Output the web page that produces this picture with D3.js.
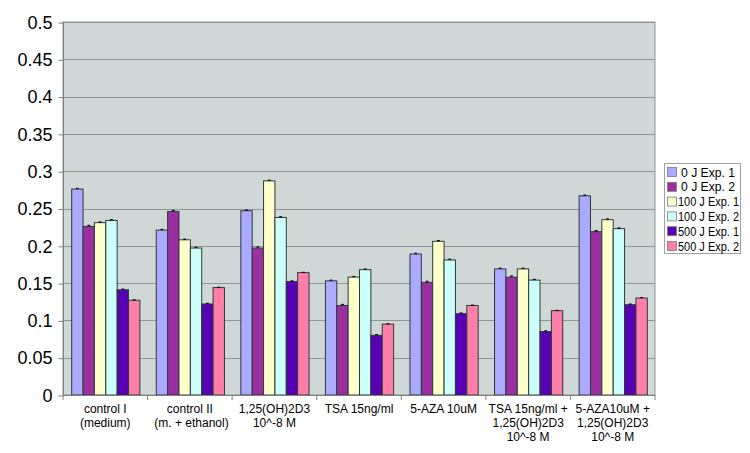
<!DOCTYPE html>
<html><head><meta charset="utf-8">
<script src="https://cdn.jsdelivr.net/npm/d3@7"></script>
<style>body{margin:0;background:#fff;}svg{display:block;font-family:"Liberation Sans",Arial,sans-serif;}</style>
</head><body><svg id="c" width="750" height="453"></svg>
<script>
const categories = [
  ["control I","(medium)"],
  ["control II"," (m. + ethanol)"],
  ["1,25(OH)2D3","10^-8 M"],
  ["TSA 15ng/ml"],
  ["5-AZA 10uM"],
  ["TSA 15ng/ml +","1,25(OH)2D3","10^-8 M"],
  ["5-AZA10uM +","1,25(OH)2D3","10^-8 M"]
];
const seriesNames = ["0 J Exp. 1","0 J Exp. 2","100 J Exp. 1","100 J Exp. 2","500 J Exp. 1","500 J Exp. 2"];
const seriesColors = ["#aaaaff","#9a2fa0","#ffffcc","#ccfffa","#5800b4","#ff7fa8"];
const s0J1   = [0.276,0.221,0.247,0.153,0.189,0.169,0.267];
const s0J2   = [0.226,0.246,0.197,0.120,0.151,0.158,0.219];
const s100J1 = [0.231,0.208,0.287,0.158,0.206,0.169,0.235];
const s100J2 = [0.234,0.197,0.238,0.168,0.181,0.154,0.223];
const s500J1 = [0.141,0.122,0.152,0.080,0.109,0.085,0.121];
const s500J2 = [0.127,0.144,0.164,0.095,0.120,0.113,0.130];
const seriesVals = [s0J1,s0J2,s100J1,s100J2,s500J1,s500J2];
const errs = [0.001,0.0015,0.001,0.001,0.001,0.0005];
const yTicks = [0,0.05,0.1,0.15,0.2,0.25,0.3,0.35,0.4,0.45,0.5];
const yTickLabels = ["0","0.05","0.1","0.15","0.2","0.25","0.3","0.35","0.4","0.45","0.5"];

const svg = d3.select("#c");
const L=63, R=655, T=22, B=395;
const y = d3.scaleLinear().domain([0,0.5]).range([B,T]);
const x0 = d3.scaleBand().domain(d3.range(categories.length)).range([L,R]).paddingInner(0).paddingOuter(0);
const x1 = d3.scaleBand().domain(d3.range(seriesNames.length)).range([0,x0.bandwidth()]).paddingInner(0).paddingOuter(0.72);

svg.append("rect").attr("x",L).attr("y",T).attr("width",R-L).attr("height",B-T)
  .attr("fill","#cfd8d6").attr("stroke","#8a9896").attr("stroke-width",1);

svg.append("g").selectAll("line").data(yTicks.slice(1)).join("line")
  .attr("x1",L).attr("x2",R).attr("y1",d=>Math.round(y(d))+0.5).attr("y2",d=>Math.round(y(d))+0.5)
  .attr("stroke","#8e9594").attr("stroke-width",1);

// y axis
const yAxis = d3.axisLeft(y).tickValues(yTicks).tickFormat((d,i)=>yTickLabels[i]).tickSize(5).tickPadding(6);
const ga = svg.append("g").attr("transform",`translate(${L+0.5},0.5)`).call(yAxis);
ga.selectAll("text").attr("font-size",18).attr("fill","#000").attr("font-family","Liberation Sans, Arial, sans-serif");
ga.selectAll("line,path").attr("stroke","#808080");
ga.select("path").attr("d",`M0,${T}V${B}`);

// bars
const g = svg.append("g");
seriesVals.forEach((vals,si)=>{
  g.append("g").selectAll("rect").data(vals).join("rect")
    .attr("x",(d,ci)=>x0(ci)+x1(si)+0.5)
    .attr("y",d=>y(d))
    .attr("width",x1.bandwidth())
    .attr("height",d=>B-y(d))
    .attr("fill",seriesColors[si]).attr("stroke","#2b3a3a").attr("stroke-width",1);
  // error bars
  g.append("g").selectAll("path").data(vals).join("path")
    .attr("d",(d,ci)=>{const cx=x0(ci)+x1(si)+0.5+x1.bandwidth()/2; const e=errs[si];
      return `M${cx},${y(d+e)}V${y(d)} M${cx-1.5},${y(d+e)}H${cx+1.5}`;})
    .attr("stroke","#000").attr("stroke-width",1).attr("fill","none");
});

// x axis
const xAxisG = svg.append("g");
xAxisG.append("line").attr("x1",L).attr("x2",R).attr("y1",B+0.5).attr("y2",B+0.5).attr("stroke","#808080");
xAxisG.selectAll("line.t").data(d3.range(categories.length+1)).join("line").attr("class","t")
  .attr("x1",i=>L+i*x0.bandwidth()).attr("x2",i=>L+i*x0.bandwidth())
  .attr("y1",B).attr("y2",B+5).attr("stroke","#808080");
categories.forEach((lines,ci)=>{
  const t = xAxisG.append("text").attr("x",x0(ci)+x0.bandwidth()/2).attr("y",413)
    .attr("text-anchor","middle").attr("font-size",12).attr("fill","#000");
  lines.forEach((ln,li)=>t.append("tspan").attr("x",x0(ci)+x0.bandwidth()/2).attr("dy",li?14:0).text(ln));
});

// legend
const lg = svg.append("g");
lg.append("rect").attr("x",664.5).attr("y",163.5).attr("width",76).attr("height",90)
  .attr("fill","#fff").attr("stroke","#a0a0a0");
seriesNames.forEach((n,i)=>{
  const yy = 172+i*14.8;
  lg.append("rect").attr("x",667.5).attr("y",yy-4.5).attr("width",9).attr("height",9)
    .attr("fill",seriesColors[i]).attr("stroke","#7a7a7a").attr("stroke-width",0.8);
  lg.append("text").attr("x",i<2?681:678).attr("y",yy+4.5).attr("font-size",12).attr("textLength",i<2?54:61).attr("lengthAdjust","spacingAndGlyphs").attr("fill","#000").text(n);
});
</script></body></html>
